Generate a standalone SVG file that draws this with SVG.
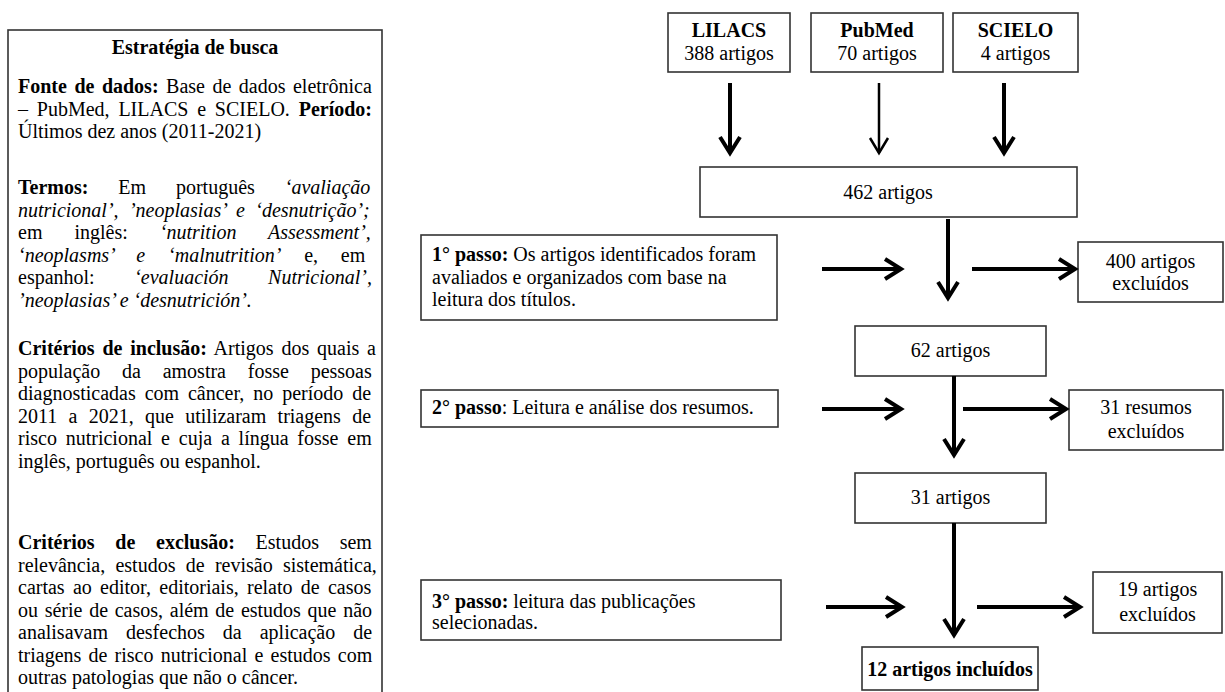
<svg xmlns="http://www.w3.org/2000/svg" width="1225" height="692" viewBox="0 0 1225 692">
<style>
.t{font-family:"Liberation Serif","Times New Roman",serif;font-size:20px;fill:#000}
.b{font-weight:bold}
.i{font-style:italic}
.box{fill:#fff;stroke:#333;stroke-width:1.6}
.c{text-anchor:middle}
.ar{fill:none;stroke:#000;stroke-width:4}
.ar2{fill:none;stroke:#000;stroke-width:2.5}
</style>
<defs>
<marker id="ah" viewBox="-20 -12 24 24" markerWidth="24" markerHeight="24" refX="0" refY="0" orient="auto" markerUnits="userSpaceOnUse" overflow="visible">
<path d="M-16,-10 L0,0 L-16,10" fill="none" stroke="#000" stroke-width="4"/>
</marker>
<marker id="ah2" viewBox="-20 -12 24 24" markerWidth="24" markerHeight="24" refX="0" refY="0" orient="auto" markerUnits="userSpaceOnUse" overflow="visible">
<path d="M-15,-9 L0,0 L-15,9" fill="none" stroke="#000" stroke-width="2.5"/>
</marker>
</defs>
<rect width="1225" height="692" fill="#fff"/>

<g id="search-strategy">
<rect x="8" y="30" width="374" height="690" class="box"/>
<text x="195" y="54" class="t b c">Estratégia de busca</text>
<text x="18" y="93" class="t" word-spacing="2.5"><tspan class="b">Fonte de dados:</tspan> Base de dados eletrônica</text>
<text x="18" y="115.5" class="t" word-spacing="3.8">– PubMed, LILACS e SCIELO. <tspan class="b">Período:</tspan></text>
<text x="18" y="138" class="t">Últimos dez anos (2011-2021)</text>
<text x="18" y="194" class="t" word-spacing="24.9"><tspan class="b">Termos:</tspan> Em português <tspan class="i">‘avaliação</tspan></text>
<text x="18" y="216.5" class="t i" word-spacing="5.4">nutricional’, ’neoplasias’ e ‘desnutrição’;</text>
<text x="18" y="239" class="t" word-spacing="27">em inglês: <tspan class="i">‘nutrition Assessment’,</tspan></text>
<text x="18" y="261.5" class="t" word-spacing="17.8"><tspan class="i">‘neoplasms’ e ‘malnutrition’</tspan> e, em</text>
<text x="18" y="284" class="t" word-spacing="34.5">espanhol: <tspan class="i">‘evaluación Nutricional’,</tspan></text>
<text x="18" y="306.5" class="t i">’neoplasias’ e ‘desnutrición’.</text>
<text x="18" y="355" class="t" word-spacing="2.8"><tspan class="b">Critérios de inclusão:</tspan> Artigos dos quais a</text>
<text x="18" y="377.5" class="t" word-spacing="16.8">população da amostra fosse pessoas</text>
<text x="18" y="400" class="t" word-spacing="3.9">diagnosticadas com câncer, no período de</text>
<text x="18" y="422.5" class="t" word-spacing="6.3">2011 a 2021, que utilizaram triagens de</text>
<text x="18" y="445" class="t" word-spacing="3.8">risco nutricional e cuja a língua fosse em</text>
<text x="18" y="467.5" class="t">inglês, português ou espanhol.</text>
<text x="18" y="549" class="t" word-spacing="15.7"><tspan class="b">Critérios de exclusão:</tspan> Estudos sem</text>
<text x="18" y="571.5" class="t" word-spacing="5.3">relevância, estudos de revisão sistemática,</text>
<text x="18" y="594" class="t" word-spacing="3.3">cartas ao editor, editoriais, relato de casos</text>
<text x="18" y="616.5" class="t" word-spacing="1.7">ou série de casos, além de estudos que não</text>
<text x="18" y="639" class="t" word-spacing="13">analisavam desfechos da aplicação de</text>
<text x="18" y="661.5" class="t" word-spacing="2.2">triagens de risco nutricional e estudos com</text>
<text x="18" y="684" class="t">outras patologias que não o câncer.</text>
</g>

<g id="lilacs">
<rect x="668" y="13" width="122" height="59" class="box"/>
<text x="729" y="37" class="t b c">LILACS</text>
<text x="729" y="60" class="t c">388 artigos</text>
</g>
<g id="pubmed">
<rect x="811" y="13" width="132" height="59" class="box"/>
<text x="877" y="37" class="t b c">PubMed</text>
<text x="877" y="60" class="t c">70 artigos</text>
</g>
<g id="scielo">
<rect x="953" y="13" width="125" height="59" class="box"/>
<text x="1015.5" y="37" class="t b c">SCIELO</text>
<text x="1015.5" y="60" class="t c">4 artigos</text>
</g>
<g id="total-462">
<rect x="700" y="167" width="377" height="50" class="box"/>
<text x="888" y="199" class="t c">462 artigos</text>
</g>
<g id="step1">
<rect x="421" y="235" width="356" height="85" class="box"/>
<text x="432" y="261" class="t"><tspan class="b">1° passo:</tspan> Os artigos identificados foram</text>
<text x="432" y="284" class="t">avaliados e organizados com base na</text>
<text x="432" y="306" class="t">leitura dos títulos.</text>
</g>
<g id="excluded-400">
<rect x="1078" y="242" width="145" height="60" class="box"/>
<text x="1150.5" y="268" class="t c">400 artigos</text>
<text x="1150.5" y="290" class="t c">excluídos</text>
</g>
<g id="total-62">
<rect x="855" y="326" width="191" height="50" class="box"/>
<text x="950.5" y="357" class="t c">62 artigos</text>
</g>
<g id="step2">
<rect x="421" y="390" width="357" height="37" class="box"/>
<text x="432" y="414" class="t"><tspan class="b">2° passo</tspan>: Leitura e análise dos resumos.</text>
</g>
<g id="excluded-31">
<rect x="1069" y="390" width="154" height="60" class="box"/>
<text x="1146" y="414" class="t c">31 resumos</text>
<text x="1146" y="438" class="t c">excluídos</text>
</g>
<g id="total-31">
<rect x="855" y="473" width="191" height="50" class="box"/>
<text x="950.5" y="504" class="t c">31 artigos</text>
</g>
<g id="step3">
<rect x="421" y="580" width="360" height="60" class="box"/>
<text x="432" y="608" class="t"><tspan class="b">3° passo:</tspan> leitura das publicações</text>
<text x="432" y="629" class="t">selecionadas.</text>
</g>
<g id="excluded-19">
<rect x="1093" y="572" width="129" height="61" class="box"/>
<text x="1157.5" y="596" class="t c">19 artigos</text>
<text x="1157.5" y="621" class="t c">excluídos</text>
</g>
<g id="included-12">
<rect x="862" y="647" width="176" height="43" class="box"/>
<text x="950" y="676" class="t b c">12 artigos incluídos</text>
</g>

<g id="connectors">
<path d="M730,83 V153" class="ar" marker-end="url(#ah)"/>
<path d="M879,83 V153" class="ar2" marker-end="url(#ah2)"/>
<path d="M1004,83 V153" class="ar" marker-end="url(#ah)"/>
<path d="M822,269 H901" class="ar" marker-end="url(#ah)"/>
<path d="M948,219 V298" class="ar" marker-end="url(#ah)"/>
<path d="M972,269 H1075" class="ar" marker-end="url(#ah)"/>
<path d="M822,409 H901" class="ar" marker-end="url(#ah)"/>
<path d="M954,376 V455" class="ar" marker-end="url(#ah)"/>
<path d="M963,409 H1066" class="ar" marker-end="url(#ah)"/>
<path d="M954,523 V635" class="ar" marker-end="url(#ah)"/>
<path d="M826,607 H902" class="ar" marker-end="url(#ah)"/>
<path d="M977,607 H1080" class="ar" marker-end="url(#ah)"/>
</g>
</svg>
